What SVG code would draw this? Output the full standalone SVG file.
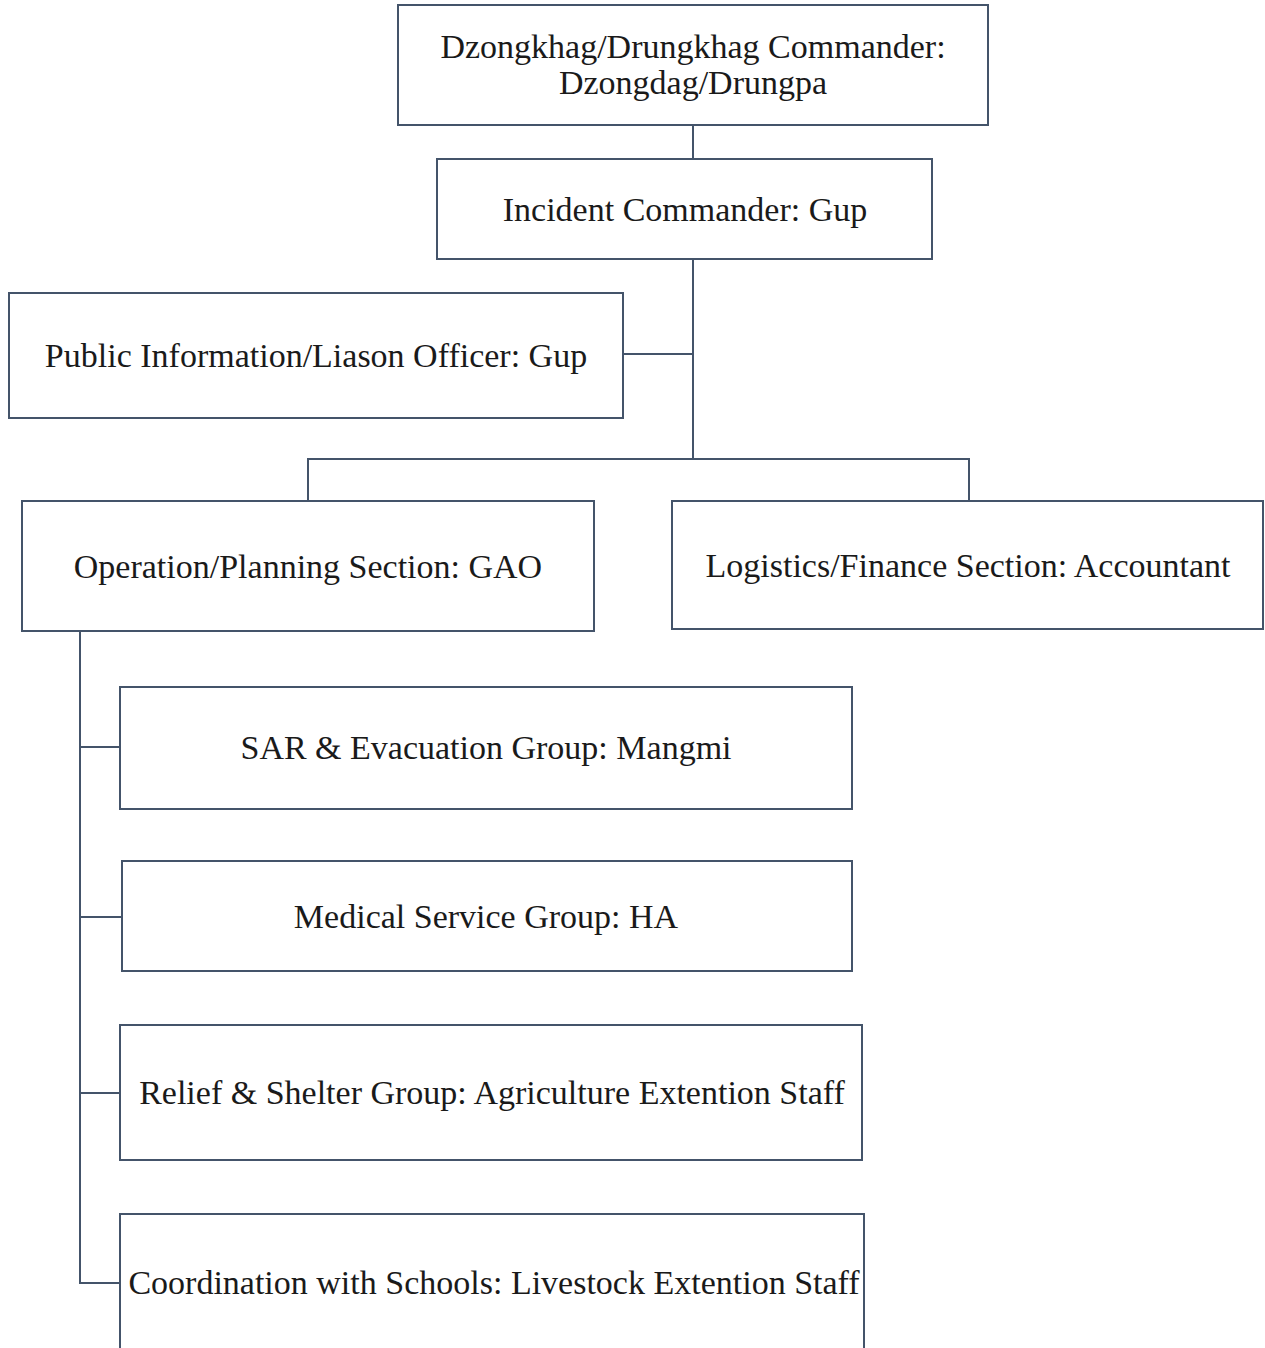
<svg xmlns="http://www.w3.org/2000/svg" width="1265" height="1348" viewBox="0 0 1265 1348">
<style>
.box{fill:#fff;stroke:#44546a;stroke-width:2}
.ln{fill:none;stroke:#44546a;stroke-width:2}
.t{font-family:"Liberation Serif","Times New Roman",serif;font-size:34px;fill:#1a1a1a;text-anchor:middle}
</style>
<rect width="1265" height="1348" fill="#fff"/>
<g id="connectors">
<path class="ln" d="M693 125V159"/>
<path class="ln" d="M693 259V459"/>
<path class="ln" d="M623 354H693"/>
<path class="ln" d="M308 501V459H969V501"/>
<path class="ln" d="M80 631V1283H120"/>
<path class="ln" d="M80 747H120"/>
<path class="ln" d="M80 917H122"/>
<path class="ln" d="M80 1093H120"/>
</g>
<g id="n1"><rect class="box" x="398" y="5" width="590" height="120"/><text class="t" x="693" y="58">Dzongkhag/Drungkhag Commander:</text><text class="t" x="693" y="94">Dzongdag/Drungpa</text></g>
<g id="n2"><rect class="box" x="437" y="159" width="495" height="100"/><text class="t" x="685" y="221">Incident Commander: Gup</text></g>
<g id="n3"><rect class="box" x="9" y="293" width="614" height="125"/><text class="t" x="316" y="367">Public Information/Liason Officer: Gup</text></g>
<g id="n4"><rect class="box" x="22" y="501" width="572" height="130"/><text class="t" x="308" y="578">Operation/Planning Section: GAO</text></g>
<g id="n5"><rect class="box" x="672" y="501" width="591" height="128"/><text class="t" x="968" y="577">Logistics/Finance Section: Accountant</text></g>
<g id="n6"><rect class="box" x="120" y="687" width="732" height="122"/><text class="t" x="486" y="759">SAR &amp; Evacuation Group: Mangmi</text></g>
<g id="n7"><rect class="box" x="122" y="861" width="730" height="110"/><text class="t" x="486" y="928">Medical Service Group: HA</text></g>
<g id="n8"><rect class="box" x="120" y="1025" width="742" height="135"/><text class="t" x="492" y="1104">Relief &amp; Shelter Group: Agriculture Extention Staff</text></g>
<g id="n9"><rect class="box" x="120" y="1214" width="744" height="160"/><text class="t" x="494" y="1294">Coordination with Schools: Livestock Extention Staff</text></g>
</svg>
